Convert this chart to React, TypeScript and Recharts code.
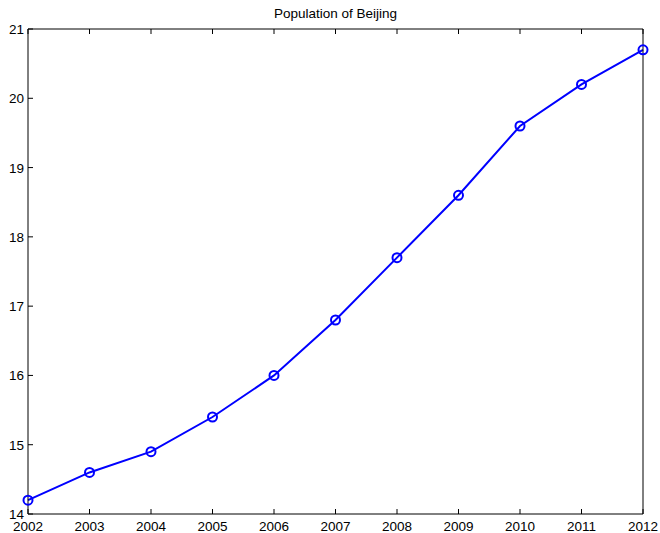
import { Label, Line, LineChart, XAxis, YAxis } from 'recharts'

const years = [2002, 2003, 2004, 2005, 2006, 2007, 2008, 2009, 2010, 2011, 2012]
const population = [14.2, 14.6, 14.9, 15.4, 16.0, 16.8, 17.7, 18.6, 19.6, 20.2, 20.7]
const yTicks = [14, 15, 16, 17, 18, 19, 20, 21]

const data = years.map((year, i) => ({ year, value: population[i] }))

const font = '"Liberation Sans", Arial, Helvetica, sans-serif'
const tickLen = 5

function BottomTick({ x, y, payload }: any) {
  return (
    <g>
      <line x1={x} x2={x} y1={y} y2={y - tickLen} stroke="#000" strokeWidth={1} />
      <text x={x} y={y + 17} textAnchor="middle" fontSize={13.5} fontFamily={font} fill="#000">
        {payload.value}
      </text>
    </g>
  )
}

function TopTick({ x, y }: any) {
  return <line x1={x} x2={x} y1={y} y2={y + tickLen} stroke="#000" strokeWidth={1} />
}

function LeftTick({ x, y, payload }: any) {
  return (
    <g>
      <line x1={x} x2={x + tickLen} y1={y} y2={y} stroke="#000" strokeWidth={1} />
      <text x={x - 4} y={y + 5} textAnchor="end" fontSize={13.5} fontFamily={font} fill="#000">
        {payload.value}
      </text>
    </g>
  )
}

function RightTick({ x, y }: any) {
  return <line x1={x} x2={x - tickLen} y1={y} y2={y} stroke="#000" strokeWidth={1} />
}

export default function App() {
  return (
    <div style={{ position: 'absolute', left: 0, top: 0, width: 660, height: 533, background: '#fff' }}>
      <LineChart width={660} height={533} data={data} margin={{ top: 0, right: 0, bottom: 0, left: 0 }}>
        <XAxis
          xAxisId="bottom"
          dataKey="year"
          type="number"
          domain={[2002, 2012]}
          ticks={years}
          height={19}
          tickSize={0}
          tickMargin={0}
          tickLine={false}
          tick={<BottomTick />}
          axisLine={{ stroke: '#000', strokeWidth: 1 }}
          interval={0}
        />
        <XAxis
          xAxisId="top"
          orientation="top"
          dataKey="year"
          type="number"
          domain={[2002, 2012]}
          ticks={years}
          height={29}
          tickSize={0}
          tickMargin={0}
          tickLine={false}
          tick={<TopTick />}
          axisLine={{ stroke: '#000', strokeWidth: 1 }}
          interval={0}
        >
          <Label
            value="Population of Beijing"
            position="insideBottom"
            offset={11}
            fontSize={13.5}
            fontFamily={font}
            fill="#000"
          />
        </XAxis>
        <YAxis
          yAxisId="left"
          type="number"
          domain={[14, 21]}
          ticks={yTicks}
          width={28}
          tickSize={0}
          tickMargin={0}
          tickLine={false}
          tick={<LeftTick />}
          axisLine={{ stroke: '#000', strokeWidth: 1 }}
          interval={0}
        />
        <YAxis
          yAxisId="right"
          orientation="right"
          type="number"
          domain={[14, 21]}
          ticks={yTicks}
          width={17}
          tickSize={0}
          tickMargin={0}
          tickLine={false}
          tick={<RightTick />}
          axisLine={{ stroke: '#000', strokeWidth: 1 }}
          interval={0}
        />
        <Line
          xAxisId="bottom"
          yAxisId="left"
          type="linear"
          dataKey="value"
          stroke="#0000ff"
          strokeWidth={2}
          dot={{ r: 4.5, stroke: '#0000ff', strokeWidth: 2, fill: 'none' }}
          isAnimationActive={false}
        />
      </LineChart>
    </div>
  )
}
